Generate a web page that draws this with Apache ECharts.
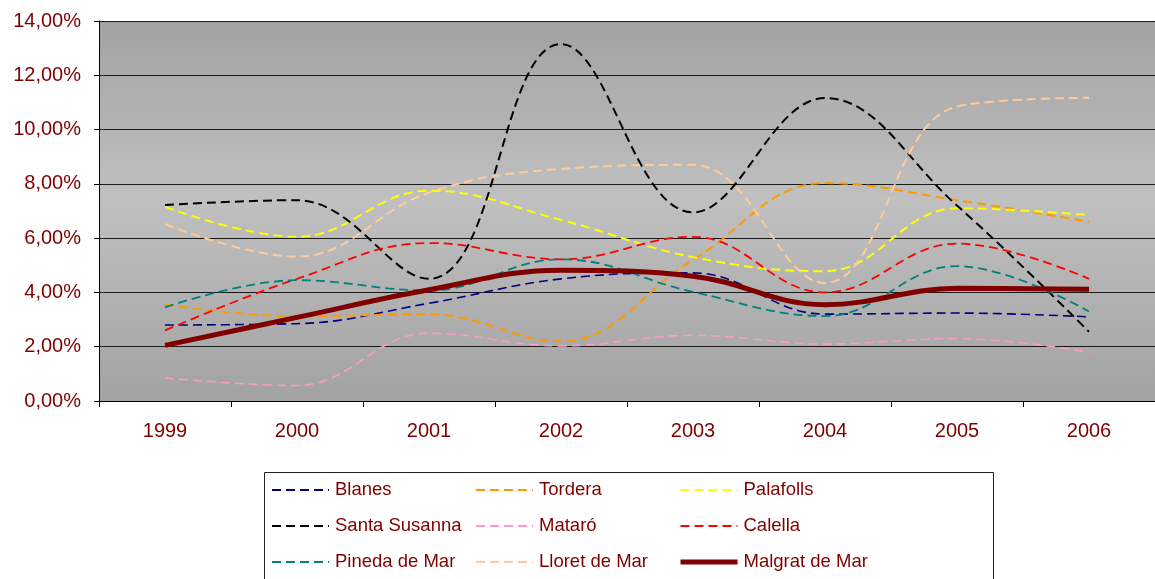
<!DOCTYPE html>
<html>
<head>
<meta charset="utf-8">
<script src="https://cdn.jsdelivr.net/npm/echarts@6/dist/echarts.min.js"></script>
<style>
  html, body { margin: 0; padding: 0; background: #fff; }
  #chart { width: 1155px; height: 579px; }
</style>
</head>
<body>
<div id="chart"></div>
<script>
// Years on the category axis
const years = ['1999', '2000', '2001', '2002', '2003', '2004', '2005', '2006'];

// Yearly percentage per town
const blanes        = [2.80, 2.85, 3.60, 4.50, 4.72, 3.20, 3.24, 3.10];
const tordera       = [3.55, 3.12, 3.20, 2.20, 5.20, 8.03, 7.40, 6.60];
const palafolls     = [7.15, 6.05, 7.75, 6.67, 5.30, 4.78, 7.10, 6.85];
const santaSusanna  = [7.22, 7.40, 4.50, 13.15, 6.95, 11.16, 7.20, 2.55];
const mataro        = [0.85, 0.57, 2.50, 2.03, 2.42, 2.10, 2.30, 1.80];
const calella       = [2.60, 4.50, 5.82, 5.22, 6.05, 4.00, 5.80, 4.50];
const pinedaDeMar   = [3.45, 4.45, 4.07, 5.22, 4.02, 3.13, 4.97, 3.30];
const lloretDeMar   = [6.52, 5.32, 7.68, 8.55, 8.70, 4.35, 10.85, 11.17];
const malgratDeMar  = [2.05, 3.08, 4.10, 4.82, 4.60, 3.55, 4.15, 4.12];

const labelColor = '#800000';
const font = 'Liberation Sans, Arial, sans-serif';

function dashed(name, data, color, width) {
  return {
    name: name, type: 'line', data: data, smooth: 0.4,
    symbol: 'none', showSymbol: false,
    lineStyle: { color: color, width: width, type: [9, 5] },
    itemStyle: { color: color },
    emphasis: { disabled: true }
  };
}

const series = [
  dashed('Blanes', blanes, '#000080', 1.6),
  dashed('Tordera', tordera, '#FF9900', 2),
  dashed('Palafolls', palafolls, '#FFFF00', 2),
  dashed('Santa Susanna', santaSusanna, '#000000', 2),
  dashed('Mataró', mataro, '#FF99CC', 1.6),
  dashed('Calella', calella, '#FF0000', 1.8),
  dashed('Pineda de Mar', pinedaDeMar, '#008080', 1.8),
  dashed('Lloret de Mar', lloretDeMar, '#FFCC99', 2),
  {
    name: 'Malgrat de Mar', type: 'line', data: malgratDeMar, smooth: 0.4,
    symbol: 'none', showSymbol: false,
    lineStyle: { color: '#800000', width: 5 },
    itemStyle: { color: '#800000' },
    emphasis: { disabled: true }
  }
];

// One legend per column so the three columns line up
function legendColumn(names, left) {
  return {
    orient: 'vertical', left: left, top: 480, padding: 0,
    itemWidth: 57, itemHeight: 20, itemGap: 16,
    selectedMode: false,
    itemStyle: { opacity: 0 },
    data: names,
    textStyle: { color: labelColor, fontFamily: font, fontSize: 18.5, lineHeight: 20, padding: [0, 0, 0, 1] }
  };
}

const chart = echarts.init(document.getElementById('chart'), null, { renderer: 'canvas' });
chart.setOption({
  animation: false,
  backgroundColor: '#ffffff',
  grid: {
    left: 99, top: 21, right: -6, bottom: 178,
    show: true, borderWidth: 0,
    backgroundColor: new echarts.graphic.LinearGradient(0, 0, 0, 1, [
      { offset: 0, color: '#A2A2A2' },
      { offset: 0.47, color: '#C0C0C0' },
      { offset: 1, color: '#A2A2A2' }
    ])
  },
  xAxis: {
    type: 'category', data: years, boundaryGap: true,
    axisLine: { lineStyle: { color: '#000', width: 1 } },
    axisTick: { show: true, length: 6, lineStyle: { color: '#000' } },
    axisLabel: { color: labelColor, fontFamily: font, fontSize: 20, margin: 20 },
    splitLine: { show: false }
  },
  yAxis: {
    type: 'value', min: 0, max: 14, interval: 2,
    axisLine: { show: true, lineStyle: { color: '#000', width: 1 } },
    axisTick: { show: true, length: 5, lineStyle: { color: '#000' } },
    axisLabel: {
      color: labelColor, fontFamily: font, fontSize: 20, margin: 18,
      formatter: v => v.toFixed(2).replace('.', ',') + '%'
    },
    splitLine: { show: true, lineStyle: { color: '#1a1a1a', width: 1 } }
  },
  legend: [
    legendColumn(['Blanes', 'Santa Susanna', 'Pineda de Mar'], 271),
    legendColumn(['Tordera', 'Mataró', 'Lloret de Mar'], 475),
    legendColumn(['Palafolls', 'Calella', { name: 'Malgrat de Mar', lineStyle: { width: 5 } }], 678)
  ],
  graphic: [{
    type: 'rect', left: 264, top: 472, z: -1,
    shape: { width: 729, height: 120 },
    style: { fill: '#ffffff', stroke: '#222', lineWidth: 1 }
  }],
  series: series
});
</script>
</body>
</html>
